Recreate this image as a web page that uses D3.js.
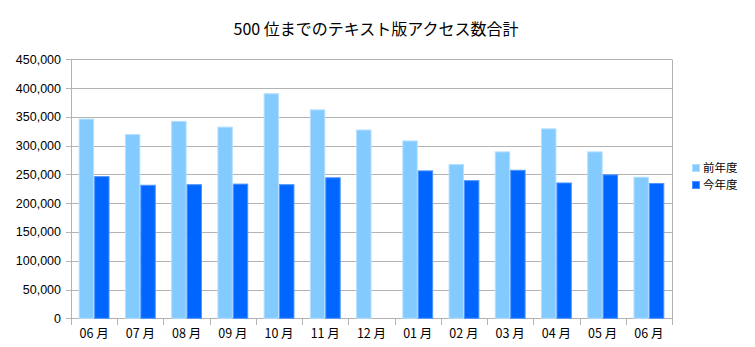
<!DOCTYPE html>
<html><head><meta charset="utf-8">
<script src="https://cdn.jsdelivr.net/npm/d3@7"></script>
<style>
body{margin:0;background:#fff;}
text{font-family:"Liberation Sans","DejaVu Sans",sans-serif;}
</style></head>
<body><svg id="c" width="755" height="347"></svg>
<script>
const categories = ["06月","07月","08月","09月","10月","11月","12月","01月","02月","03月","04月","05月","06月"];
const seriesNames = ["前年度","今年度"];
const prevYear = [347000,320000,343000,333000,391000,363000,328000,309000,268000,290000,330000,290000,246000];
const thisYear = [247000,232000,233000,234000,233000,245000,null,257000,240000,258000,236000,250000,235000];
const yTicks = [0,50000,100000,150000,200000,250000,300000,350000,400000,450000];
const title = "500 位までのテキスト版アクセス数合計";

const fills = ["#83caff","#0066ff"];
const strokes = ["#b4dfff","#4d94ff"];
const svg = d3.select("#c");
const L = 71, R = 672, T = 59.3, B = 318.3;
const cjk = '"Noto Sans CJK JP","Liberation Sans",sans-serif';

const x = d3.scaleBand().domain(d3.range(categories.length)).range([L,R]).paddingInner(1/3).paddingOuter(1/6);
const xs = d3.scaleBand().domain([0,1]).range([0,x.bandwidth()]);
const y = d3.scaleLinear().domain([0,450000]).range([B,T]);

// gridlines
svg.append("g").selectAll("line").data(yTicks).join("line")
  .attr("x1",L-5).attr("x2",R).attr("y1",d=>Math.round(y(d))+0.5).attr("y2",d=>Math.round(y(d))+0.5)
  .attr("stroke","#b3b3b3").attr("stroke-width",1);
// right border
svg.append("line").attr("x1",R+0.5).attr("x2",R+0.5).attr("y1",Math.round(T)+0.5).attr("y2",Math.round(B)+0.5).attr("stroke","#b3b3b3");
// left axis line
svg.append("line").attr("x1",L+0.5).attr("x2",L+0.5).attr("y1",Math.round(T)+0.5).attr("y2",Math.round(B)+6).attr("stroke","#b3b3b3");

// bars
const series = [prevYear, thisYear];
series.forEach((vals,si)=>{
  svg.append("g").selectAll("rect").data(vals.map((v,i)=>({v,i}))).join("rect")
    .filter(d=>d.v!=null)
    .attr("x",d=>x(d.i)+xs(si)+0.5)
    .attr("width",xs.bandwidth()-1)
    .attr("y",d=>y(d.v)+0.5)
    .attr("height",d=>B-y(d.v)-0.5)
    .attr("fill",fills[si]).attr("stroke",strokes[si]).attr("stroke-width",1);
});

// x ticks at band boundaries
const bounds = d3.range(categories.length+1).map(i=>L + i*x.step());
svg.append("g").selectAll("line").data(bounds).join("line")
  .attr("x1",d=>Math.round(d)+0.5).attr("x2",d=>Math.round(d)+0.5)
  .attr("y1",Math.round(B)).attr("y2",Math.round(B)+7)
  .attr("stroke","#b3b3b3");

// y labels
svg.append("g").selectAll("text").data(yTicks).join("text")
  .attr("x",L-10).attr("y",d=>y(d)+4.5).attr("text-anchor","end")
  .attr("font-size",12.5).attr("fill","#000")
  .text(d=>d3.format(",")(d));

// x labels
svg.append("g").selectAll("text").data(categories).join("text")
  .attr("x",(d,i)=>x(i)+x.bandwidth()/2).attr("y",338)
  .attr("text-anchor","middle").attr("font-size",12.5).attr("fill","#000")
  .style("font-family",cjk)
  .text(d=>d.replace("月"," 月"));

// title
svg.append("text").attr("x",376).attr("y",35).attr("text-anchor","middle")
  .attr("font-size",16).attr("fill","#000").style("font-family",cjk).text(title);

// legend
const lg = svg.append("g");
seriesNames.forEach((n,i)=>{
  lg.append("rect").attr("x",692.5).attr("y",164.5+i*17).attr("width",7).attr("height",7)
    .attr("fill",fills[i]).attr("stroke",strokes[i]);
  lg.append("text").attr("x",703).attr("y",172+i*17).attr("font-size",11.5)
    .style("font-family",cjk).attr("fill","#000").text(n);
});
</script></body></html>
